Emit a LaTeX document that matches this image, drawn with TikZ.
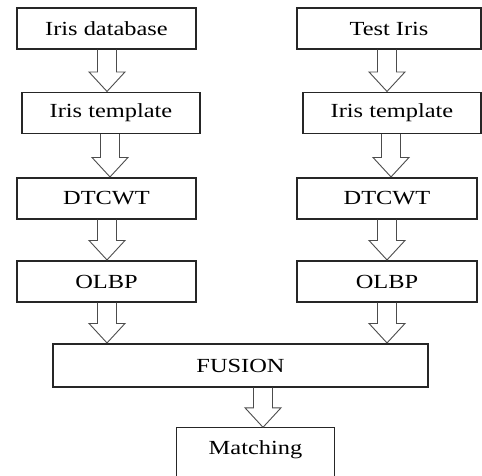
\documentclass[tikz,border=0pt]{standalone}
\usepackage{fontspec}
\setmainfont{Liberation Serif}[FakeStretch=1.22]
\usetikzlibrary{calc}
\tikzset{
  box/.style={draw=black!85, line width=1.1pt, minimum height=41pt, inner sep=0pt,
    font=\fontsize{20pt}{22pt}\selectfont},
  barrowstyle/.style={draw=black!70, line width=0.9pt, line join=miter}
}
\newcommand{\blockarrow}[3]{%
  \draw[barrowstyle] let \p1=(#1.south), \p2=(#2.north) in
    ({#3pt-9.5pt},\y1) -- ({#3pt-9.5pt},{\y2+20pt}) -- ({#3pt-18pt},{\y2+20pt})
    -- ({#3pt},{\y2+0.5pt}) -- ({#3pt+18pt},{\y2+20pt}) -- ({#3pt+9.5pt},{\y2+20pt})
    -- ({#3pt+9.5pt},\y1);}
\begin{document}
\begin{tikzpicture}[x=1pt,y=-1pt]
\useasboundingbox[fill=white] (0,0) rectangle (482,475);
% left column
\node[box, minimum width=179pt] (db)  at (106.5,28.5) {Iris database};
\node[box, minimum width=178pt] (tl)  at (111,113)   {Iris template};
\node[box, minimum width=179pt] (dl)  at (106.5,198.5) {DTCWT};
\node[box, minimum width=179pt] (ol)  at (106.5,281.5) {OLBP};
% right column
\node[box, minimum width=184pt] (ti)  at (389,28.5) {Test Iris};
\node[box, minimum width=178pt] (tr)  at (392,113)  {Iris template};
\node[box, minimum width=180pt] (dr)  at (387,198.5) {DTCWT};
\node[box, minimum width=180pt] (or)  at (387,281.5) {OLBP};
% fusion and matching
\node[box, minimum width=375pt, minimum height=43pt] (fu) at (240.5,365.5) {FUSION};
\node[font=\fontsize{20pt}{22pt}\selectfont, minimum width=157pt, minimum height=44pt, inner sep=0pt] (ma) at (255.5,450) {Matching};
\draw[draw=black!85, line width=1.1pt] (ma.south west) ++(0,-30pt) |- (ma.north east) -- ++(0,-74pt);
% arrows
\blockarrow{db}{tl}{107}
\blockarrow{tl}{dl}{110}
\blockarrow{dl}{ol}{107}
\blockarrow{ol}{fu}{107}
\blockarrow{ti}{tr}{387}
\blockarrow{tr}{dr}{391}
\blockarrow{dr}{or}{387}
\blockarrow{or}{fu}{387}
\blockarrow{fu}{ma}{263}
\end{tikzpicture}
\end{document}
